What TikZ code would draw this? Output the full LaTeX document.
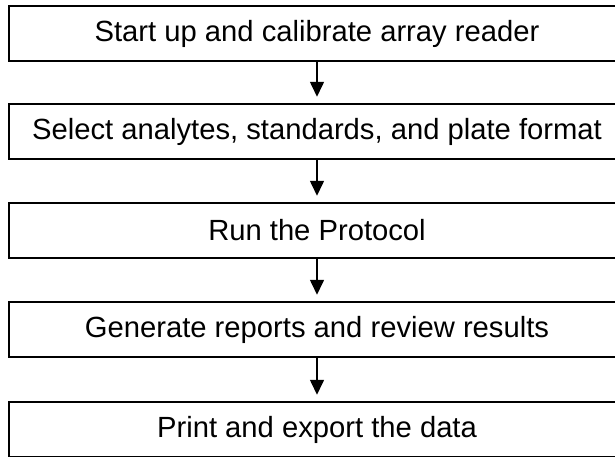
\documentclass[tikz,border=0pt]{standalone}
\usepackage{fontspec}
\setmainfont{Liberation Sans}
\usetikzlibrary{arrows.meta}
\begin{document}
\begin{tikzpicture}[x=1pt,y=-1pt,
  stepbox/.style={draw=black,line width=2.5pt,minimum width=616pt,minimum height=55pt,inner sep=0pt,font=\fontsize{29.2}{33}\selectfont},
  flow/.style={line width=1.6pt,-{Triangle[width=14pt,length=15pt]},shorten >=6pt}]
\useasboundingbox (0,0) rectangle (615,456);
\clip (0,0) rectangle (615,456);
\node[stepbox] (a) at (317,33.5) {Start up and calibrate array reader};
\node[stepbox] (b) at (317,131.5) {Select analytes, standards, and plate format};
\node[stepbox] (c) at (317,230.5) {Run the Protocol};
\node[stepbox] (d) at (317,329.5) {Generate reports and review results};
\node[stepbox] (e) at (317,429.5) {Print and export the data};
\draw[flow] (a) -- (b);
\draw[flow] (b) -- (c);
\draw[flow] (c) -- (d);
\draw[flow] (d) -- (e);
\end{tikzpicture}
\end{document}
